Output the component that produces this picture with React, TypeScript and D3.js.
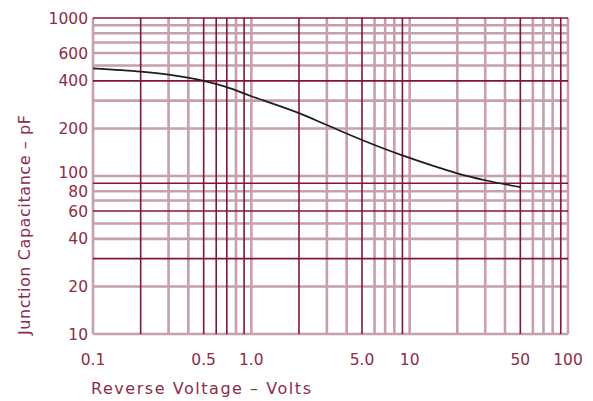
import * as d3 from 'd3';

// Reverse voltage (V) vs junction capacitance (pF)
const voltage = [0.1, 0.2, 0.3, 0.5, 0.7, 1, 2, 3, 5, 9, 20, 30, 50];
const capacitance = [480, 458, 438, 400, 365, 320, 250, 210, 169, 135, 104, 94, 85];

const xTickLabels = ['0.1', '0.5', '1.0', '5.0', '10', '50', '100'];
const yTickLabels = ['1000', '600', '400', '200', '100', '80', '60', '40', '20', '10'];

// grid lines that come out crisp in the original scan
const darkX = [0.2, 0.5, 0.6, 0.7, 0.9, 2, 5, 9, 50, 90];
const darkY = [1000, 400, 90, 60, 30];

const W = 593;
const H = 401;
const margin = { left: 93, right: 25, top: 18, bottom: 67 };

const gridDark = '#84133a';
const gridSoft = '#c6a0aa';
const textColor = '#8e2c48';

// 1..9 multiples across each decade
const decadeLines = (lo: number, hi: number) => {
	const out: number[] = [];
	for (let d = lo; d < hi; d *= 10) {
		for (let k = 1; k < 10; k++) out.push(+(d * k).toPrecision(3));
	}
	out.push(hi);
	return out;
};

// small nudges so the crowded 100 / 80 labels don't collide
const labelNudge: Record<string, number> = { '100': -4, '80': 0 };

export default function App() {
	const x = d3.scaleLog().domain([0.1, 100]).range([margin.left, W - margin.right]);
	const y = d3.scaleLog().domain([10, 1000]).range([H - margin.bottom, margin.top]);

	const xGrid = decadeLines(0.1, 100);
	const yGrid = decadeLines(10, 1000);

	const points = voltage.map((v, i) => [v, capacitance[i]] as [number, number]);
	const line = d3
		.line<[number, number]>()
		.x((d) => x(d[0]))
		.y((d) => y(d[1]))
		.curve(d3.curveCatmullRom.alpha(0.5));

	const font = '"DejaVu Sans", sans-serif';

	return (
		<svg
			width={W}
			height={H}
			style={{ position: 'absolute', left: 0, top: 0, background: '#fff' }}
			fontFamily={font}
		>
			{/* soft grid first, crisp on top */}
			{yGrid
				.filter((v) => !darkY.includes(v))
				.map((v) => (
					<line key={'ys' + v} x1={x(0.1)} x2={x(100)} y1={y(v)} y2={y(v)} stroke={gridSoft} strokeWidth={2.6} />
				))}
			{xGrid
				.filter((v) => !darkX.includes(v))
				.map((v) => (
					<line key={'xs' + v} x1={x(v)} x2={x(v)} y1={y(10)} y2={y(1000)} stroke={gridSoft} strokeWidth={2.6} />
				))}
			{yGrid
				.filter((v) => darkY.includes(v))
				.map((v) => (
					<line key={'yd' + v} x1={x(0.1)} x2={x(100)} y1={y(v)} y2={y(v)} stroke={gridDark} strokeWidth={1.6} />
				))}
			{xGrid
				.filter((v) => darkX.includes(v))
				.map((v) => (
					<line key={'xd' + v} x1={x(v)} x2={x(v)} y1={y(10)} y2={y(1000)} stroke={gridDark} strokeWidth={1.6} />
				))}

			<path d={line(points) || ''} fill="none" stroke="#1e1e1e" strokeWidth={1.7} />

			{yTickLabels.map((t) => (
				<text
					key={'yl' + t}
					x={margin.left - 5}
					y={y(+t) + (labelNudge[t] || 0)}
					dy="0.36em"
					textAnchor="end"
					fontSize={15.5}
					fill={textColor}
				>
					{t}
				</text>
			))}
			{xTickLabels.map((t) => (
				<text key={'xl' + t} x={x(+t)} y={365} textAnchor="middle" fontSize={15.5} fill={textColor}>
					{t}
				</text>
			))}

			<text x={91} y={394} fontSize={16} fill={textColor} textLength={220} lengthAdjust="spacing">
				Reverse Voltage – Volts
			</text>
			<text
				transform={`translate(30,${225}) rotate(-90)`}
				textAnchor="middle"
				fontSize={16}
				fill={textColor}
				textLength={220}
				lengthAdjust="spacing"
			>
				Junction Capacitance – pF
			</text>
		</svg>
	);
}
